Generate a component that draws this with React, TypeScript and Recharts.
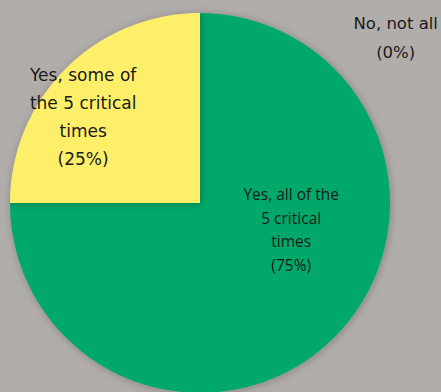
import React from "react";
import { PieChart, Pie, Cell } from "recharts";

const categories = ["Yes, all of the 5 critical times", "Yes, some of the 5 critical times", "No, not all"];
const shares = [75, 25, 0];
const labelLines = [
  ["Yes, all of the", "5 critical", "times", "(75%)"],
  ["Yes, some of", "the 5 critical", "times", "(25%)"],
  ["No, not all", "(0%)"],
];

const colors = ["#00a96b", "#fdef6a", "#8e8e8e"];
// label placement as fractions of the outer radius, relative to the centre
const labelPos = [
  { fx: 0.48, fy: 0.14, font: "'Open Sans', sans-serif", size: 15.5, lh: 23.5 },
  { fx: -0.615, fy: -0.455, font: "'DejaVu Sans', sans-serif", size: 17, lh: 28 },
  { fx: 1.03, fy: -0.87, font: "'DejaVu Sans', sans-serif", size: 16.5, lh: 29 },
];

const data = categories.map((name, i) => ({ name, value: shares[i] }));

function renderLabel(props: any) {
  const { cx, cy, outerRadius, index } = props;
  const p = labelPos[index];
  const lines = labelLines[index];
  const x = cx + p.fx * outerRadius;
  const y = cy + p.fy * outerRadius - ((lines.length - 1) * p.lh) / 2;
  return (
    <text
      key={`lbl-${index}`}
      x={x}
      y={y}
      textAnchor="middle"
      dominantBaseline="central"
      fill="#1a1a1a"
      fontFamily={p.font}
      fontSize={p.size}
    >
      {lines.map((t, j) => (
        <tspan key={j} x={x} dy={j === 0 ? 0 : p.lh}>
          {t}
        </tspan>
      ))}
    </text>
  );
}

export default function App() {
  return (
    <div
      style={{
        position: "fixed",
        left: 0,
        top: 0,
        width: 441,
        height: 392,
        background: "#b1adab",
        overflow: "hidden",
      }}
    >
      <PieChart width={441} height={392} margin={{ top: 0, right: 0, bottom: 0, left: 0 }}>
        <defs>
          <filter id="pieShadow" x="-20%" y="-20%" width="140%" height="140%">
            <feDropShadow dx="1" dy="1" stdDeviation="4" floodColor="#000" floodOpacity="0.25" />
          </filter>
        </defs>
        <Pie
          data={data}
          dataKey="value"
          nameKey="name"
          cx={200}
          cy={203}
          outerRadius={190}
          startAngle={90}
          endAngle={-270}
          stroke="none"
          labelLine={false}
          label={renderLabel}
          isAnimationActive={false}
        >
          {data.map((d, i) => (
            <Cell key={d.name} fill={colors[i]} filter="url(#pieShadow)" />
          ))}
        </Pie>
      </PieChart>
    </div>
  );
}
